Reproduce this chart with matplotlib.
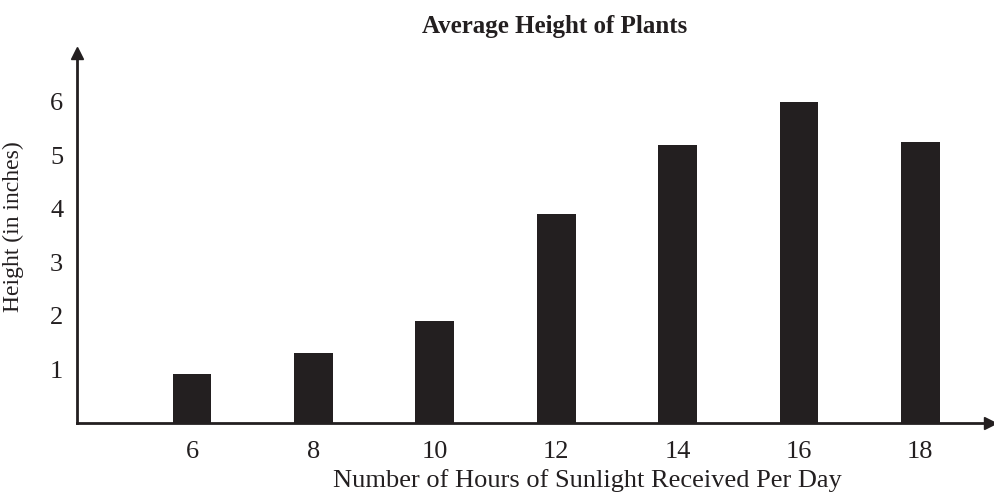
import matplotlib
matplotlib.use("Agg")
import matplotlib.pyplot as plt

# hours of sunlight per day and average plant height (inches)
hours = [6, 8, 10, 12, 14, 16, 18]
heights = [0.9, 1.3, 1.9, 3.9, 5.2, 6.0, 5.25]
y_ticks = [1, 2, 3, 4, 5, 6]

ink = '#231f20'
plt.rcParams['font.family'] = ['Liberation Serif', 'DejaVu Serif']

fig = plt.figure(figsize=(9.94, 4.93), dpi=100)
ax = fig.add_axes([0.0775, 0.143, 0.918, 0.749])

ax.bar(hours, heights, width=0.64, color=ink)

ax.set_xlim(4.107, 19.14)
ax.set_ylim(0, 6.91)
ax.set_xticks(hours)
ax.set_yticks(y_ticks)
ax.tick_params(length=0, labelsize=19, colors=ink)
ax.tick_params(axis='x', pad=13)
ax.tick_params(axis='y', pad=10)

for side in ['top', 'right']:
    ax.spines[side].set_visible(False)
for side in ['left', 'bottom']:
    ax.spines[side].set_linewidth(2)
    ax.spines[side].set_color(ink)

# arrow heads at the ends of the axes
ax.plot(1, 0, marker='>', ms=8, color=ink, transform=ax.transAxes, clip_on=False)
ax.plot(0, 1, marker='^', ms=9, color=ink, transform=ax.transAxes, clip_on=False)

ax.set_ylabel('Height (in inches)', fontsize=17, color=ink)
ax.yaxis.set_label_coords(-0.058, 0.53)

fig.text(0.5905, 0.012, 'Number of Hours of Sunlight Received Per Day', fontsize=19,
         ha='center', va='baseline', color=ink)
fig.text(0.558, 0.933, 'Average Height of Plants', fontsize=18, fontweight='bold',
         ha='center', va='baseline', color=ink)

fig.savefig('out.png', dpi=100)
